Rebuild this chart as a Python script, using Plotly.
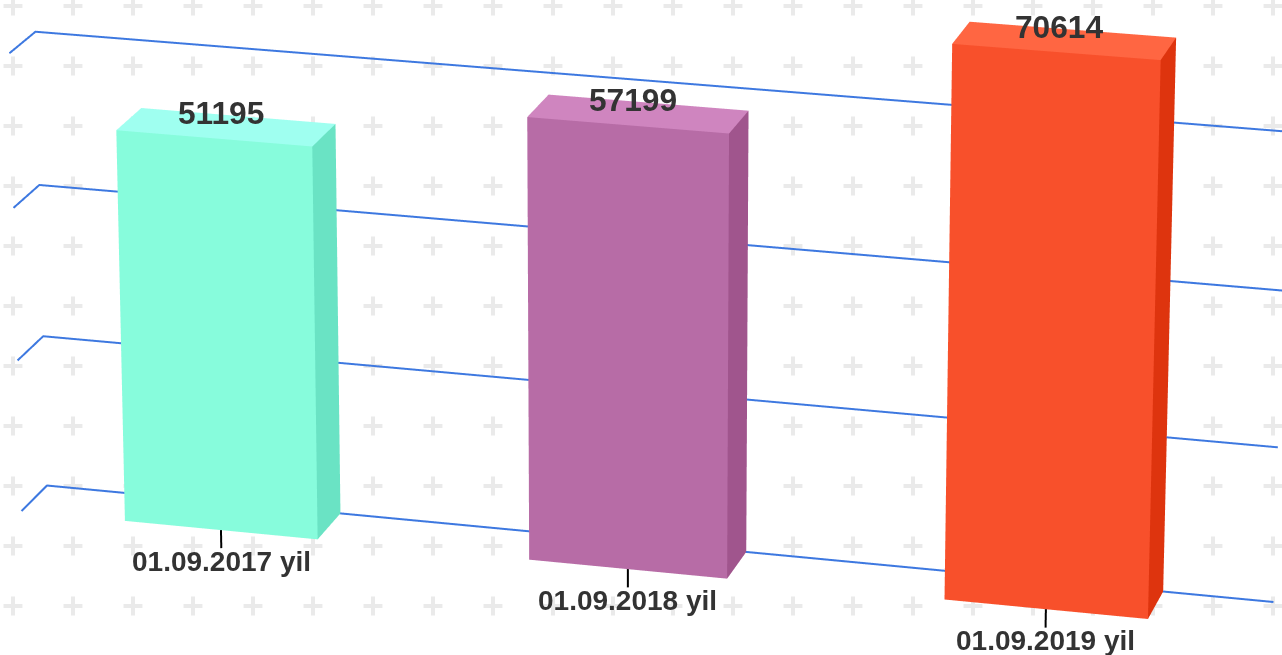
import numpy as np
import plotly.graph_objects as go

# ---- data ----
categories = ["01.09.2017 yil", "01.09.2018 yil", "01.09.2019 yil"]
values = [51195, 57199, 70614]
grid_levels = [0, 20000, 40000, 60000]
front_colors = ["#87FCDC", "#B76CA6", "#F8502B"]
top_colors = ["#9FFFF0", "#CF85BF", "#FF6642"]
side_colors = ["#6AE3C4", "#A0558D", "#DE340E"]
grid_color = "#3D78E0"
text_color = "#333333"

# ---- chart geometry (category units, depth 0..1, value in thousands) ----
BAR_WIDTH = 0.48
X_MIN, X_MAX = -0.5, 2.5
TICK_LEN = 2.4

# chart camera: homogeneous projection of (category, depth, value/1000, 1)
PROJ = np.array([
    [394.659174618, -25.779448417, -0.205032185, 244.629346893],
    [31.112000717, 20.715554685, -7.623755939, 504.302285215],
    [-0.013238107, -0.00958675, -0.000325873, 1.0],
])
W, H = 1282, 655
CX, CY = W / 2, H / 2
FOCAL = (H / 2) / np.tan(np.pi / 8)
EYE = 2.0
RANGE = 2.5
CUBE_HALF = 0.5


def scene(X, D, V):
    """Affine map of chart coordinates into the plotly scene, so the scene's
    fixed 45-degree camera reproduces the long-lens chart camera."""
    m = np.array([X, D, V / 1000.0, 1.0])
    a, b, c = PROJ @ m
    w = c
    sx = EYE / FOCAL * (a - CX * w)
    sy = EYE / FOCAL * (CY * w - b)
    sz = -EYE * (w - 1.0)
    return sx, sy, sz


fig = go.Figure()

# background plus pattern
px = np.arange(13, W + 30, 60)
py = np.arange(6, H + 30, 60)
gx, gy = np.meshgrid(px, py)
fig.add_trace(go.Scatter(
    x=gx.ravel(), y=gy.ravel(), mode="markers", hoverinfo="skip", showlegend=False,
    marker=dict(symbol="cross-thin", size=13.5, color="#EAEAEA",
                line=dict(color="#EAEAEA", width=4)),
))

# grid lines: side stub then back wall
for lv in grid_levels:
    pts = [scene(X_MIN, 1, lv), scene(X_MIN, 0, lv), scene(X_MAX, 0, lv)]
    xs, ys, zs = zip(*pts)
    fig.add_trace(go.Scatter3d(x=xs, y=ys, z=zs, mode="lines", hoverinfo="skip",
                               showlegend=False, line=dict(color=grid_color, width=4)))

# bars
for i, val in enumerate(values):
    l, r = i - BAR_WIDTH / 2, i + BAR_WIDTH / 2
    corners = [(l, 1, 0), (r, 1, 0), (r, 1, val), (l, 1, val),
               (l, 0, val), (r, 0, val), (r, 0, 0)]
    xs, ys, zs = zip(*[scene(*c) for c in corners])
    tri_i = [0, 0, 3, 3, 1, 1]
    tri_j = [1, 2, 2, 5, 6, 5]
    tri_k = [2, 3, 5, 4, 5, 2]
    colors = [front_colors[i]] * 2 + [top_colors[i]] * 2 + [side_colors[i]] * 2
    fig.add_trace(go.Mesh3d(
        x=xs, y=ys, z=zs, i=tri_i, j=tri_j, k=tri_k, facecolor=colors,
        flatshading=True, hoverinfo="skip", showscale=False,
        lighting=dict(ambient=1, diffuse=0, specular=0, roughness=1, fresnel=0),
    ))
    # category tick
    p0, p1 = scene(i, 1, 0), scene(i, 1, -TICK_LEN * 1000)
    fig.add_trace(go.Scatter3d(
        x=[p0[0], p1[0]], y=[p0[1], p1[1]], z=[p0[2], p1[2]], mode="lines",
        hoverinfo="skip", showlegend=False, line=dict(color="#000000", width=4)))

annotations = []
for i, (cat, val) in enumerate(zip(categories, values)):
    sx, sy, sz = scene(i, 0.5, val)
    annotations.append(dict(x=sx, y=sy, z=sz, text=f"<b>{val}</b>", showarrow=False,
                            xshift=-5.5, yshift=14,
                            font=dict(family="Liberation Sans", size=31.7, color=text_color)))
    sx, sy, sz = scene(i, 1, -TICK_LEN * 1000)
    annotations.append(dict(x=sx, y=sy, z=sz, text=f"<b>{cat}</b>", showarrow=False,
                            xshift=0, yshift=-13,
                            font=dict(family="Liberation Sans", size=28, color=text_color)))

hidden = dict(visible=False, range=[-RANGE, RANGE], showgrid=False, zeroline=False,
              showbackground=False, showspikes=False)
fig.update_layout(
    width=W, height=H, margin=dict(l=0, r=0, t=0, b=0, pad=0), autosize=False,
    paper_bgcolor="#FFFFFF", plot_bgcolor="#FFFFFF", showlegend=False, hovermode=False,
    xaxis=dict(visible=False, range=[0, W], domain=[0, 1], fixedrange=True),
    yaxis=dict(visible=False, range=[H, 0], domain=[0, 1], fixedrange=True),
    scene=dict(
        domain=dict(x=[0, 1], y=[0, 1]),
        xaxis=hidden, yaxis=hidden, zaxis=hidden,
        aspectmode="manual", aspectratio=dict(x=1, y=1, z=1),
        bgcolor="rgba(0,0,0,0)",
        camera=dict(eye=dict(x=0, y=0, z=EYE * CUBE_HALF / RANGE),
                    center=dict(x=0, y=0, z=0), up=dict(x=0, y=1, z=0),
                    projection=dict(type="perspective")),
        annotations=annotations,
    ),
)
fig.write_html("out.html", config=dict(displayModeBar=False),
               post_script="document.body.style.margin='0';document.body.style.overflow='hidden';")
